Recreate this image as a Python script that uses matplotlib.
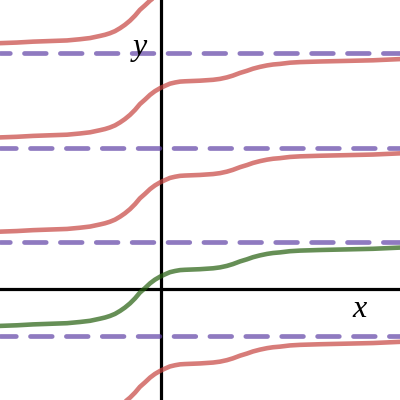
import numpy as np
import matplotlib
matplotlib.use('Agg')
import matplotlib.pyplot as plt

# Green solution curve
x_vals = [-5.38, -4.82, -4.28, -3.72, -3.15, -2.72, -2.38, -2.05, -1.88, -1.72, -1.55,
          -1.38, -1.22, -1.05, -0.88, -0.72, -0.55, -0.38, -0.22, -0.05, 0.12, 0.28,
          0.45, 0.62, 0.78, 1.28, 1.72, 1.95, 2.18, 2.38, 2.62, 2.85, 3.05, 3.28,
          3.52, 3.72, 3.95, 4.28, 4.62, 5.28, 6.18, 7.05, 7.95]
y_vals = [-1.23, -1.21, -1.18, -1.16, -1.14, -1.10, -1.06, -0.99, -0.95, -0.90, -0.83,
          -0.73, -0.62, -0.48, -0.31, -0.12, 0.03, 0.19, 0.31, 0.41, 0.49, 0.56,
          0.60, 0.63, 0.64, 0.66, 0.69, 0.72, 0.77, 0.83, 0.92, 0.99, 1.06, 1.12,
          1.17, 1.20, 1.22, 1.26, 1.28, 1.30, 1.32, 1.34, 1.38]

# Red curves are copies of the green one shifted by k*pi
red_shifts = [-1, 1, 2, 3]

# Horizontal asymptotes at pi/2 + k*pi
asymptotes = [-np.pi / 2, np.pi / 2, 3 * np.pi / 2, 5 * np.pi / 2]
dash_offsets = [1.25, 2.52, 1.25, 2.52]

fig = plt.figure(figsize=(4, 4), dpi=100)
ax = fig.add_axes([0, 0, 1, 1])
ax.set_xlim(-5.383, 7.95)
ax.set_ylim(-3.7, 9.633)
ax.axis('off')

# axes
ax.axhline(0, color='black', lw=2.3, zorder=1)
ax.axvline(0, color='black', lw=2.3, zorder=1)

# dashed asymptotes
for yv, off in zip(asymptotes, dash_offsets):
    ax.axhline(yv, color='#6042a6', alpha=0.7, lw=3.4,
               linestyle=(off, (4.6, 3.0)), dash_capstyle='round', zorder=2)

x = np.array(x_vals)
y = np.array(y_vals)
for k in red_shifts:
    ax.plot(x, y + k * np.pi, color='#c74440', alpha=0.7, lw=3.3,
            solid_capstyle='round', solid_joinstyle='round', zorder=3)
ax.plot(x, y, color='#25600f', alpha=0.7, lw=3.3,
        solid_capstyle='round', solid_joinstyle='round', zorder=3)

# axis labels
ax.text(6.61, -0.94, 'x', fontsize=23, family='Liberation Serif', style='italic',
        ha='center', va='baseline', zorder=4)
ax.text(-0.72, 7.81, 'y', fontsize=23, family='Liberation Serif', style='italic',
        ha='center', va='baseline', zorder=4)

fig.savefig('out.png', dpi=100)
